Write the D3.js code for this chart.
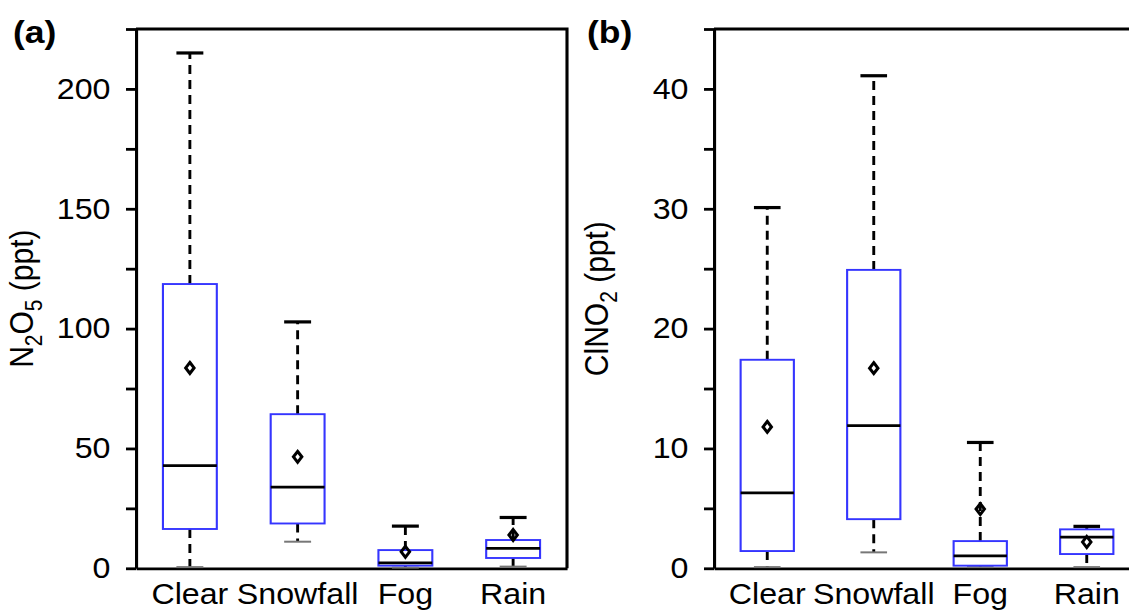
<!DOCTYPE html>
<html>
<head>
<meta charset="utf-8">
<script src="https://cdn.jsdelivr.net/npm/d3@7"></script>
<style>
  body { margin: 0; background: #fff; }
  text { font-family: "Liberation Sans", Arial, sans-serif; fill: #000; }
</style>
</head>
<body>
<svg id="chart" width="1129" height="610"></svg>
<script>
// categories shared by both panels
const categories = ["Clear", "Snowfall", "Fog", "Rain"];

// (a) N2O5, ppt
const n2o5High   = [215, 102.8, 17.6, 21.2];
const n2o5Q3     = [118.6, 64.3, 7.6, 11.8];
const n2o5Median = [42.8, 33.9, 2.3, 8.3];
const n2o5Q1     = [16.4, 18.7, 1.1, 4.3];
const n2o5Low    = [0.5, 11.1, 0.3, 0.7];
const n2o5Mean   = [83.6, 46.5, 6.9, 13.9];

// (b) ClNO2, ppt
const clno2High   = [30.1, 41.1, 10.5, 3.5];
const clno2Q3     = [17.4, 24.9, 2.27, 3.25];
const clno2Median = [6.3, 11.9, 1.03, 2.6];
const clno2Q1     = [1.44, 4.1, 0.22, 1.19];
const clno2Low    = [0.1, 1.33, 0.1, 0.1];
const clno2Mean   = [11.8, 16.7, 4.94, 2.2];

// the source figure is a bit stretched sideways, so draw everything in a squeezed frame
const SX = 1.11;
const plotTop = 29, plotBottom = 568.3;
const blue = "#3535ff";

const svg = d3.select("#chart");
const root = svg.append("g").attr("transform", `scale(${SX},1)`);

const makeRows = (hi, q3, med, q1, lo, mean) =>
  categories.map((c, i) => ({ cat: c, hi: hi[i], q3: q3[i], med: med[i], q1: q1[i], lo: lo[i], mean: mean[i] }));

const drawPanel = ({ left, width, yMax, step, labelStep, rows, tag, tagX, labelX, label }) => {
  const g = root.append("g");
  const x = d3.scaleBand().domain(categories).range([left, left + width]).padding(0);
  const y = d3.scaleLinear().domain([0, yMax]).range([plotBottom, plotTop]);

  const yAxis = g.append("g")
    .attr("transform", `translate(${left},0)`)
    .call(d3.axisLeft(y)
      .tickValues(d3.range(0, yMax + step / 2, step))
      .tickSize(9).tickSizeOuter(0).tickPadding(14)
      .tickFormat(d => (Math.round(d) % labelStep === 0 ? d : "")));
  yAxis.selectAll("line, path").attr("stroke", "#000").attr("stroke-width", 2.8);
  yAxis.selectAll("text").attr("font-size", 29).attr("fill", "#000");

  const xAxis = g.append("g")
    .attr("transform", `translate(0,${plotBottom})`)
    .call(d3.axisBottom(x).tickSize(0).tickSizeOuter(0).tickPadding(15));
  xAxis.selectAll("path").attr("stroke", "#000").attr("stroke-width", 2.8);
  xAxis.selectAll("text").attr("font-size", 29).attr("fill", "#000");

  // top and right frame
  g.append("path")
    .attr("d", `M${left},${y(yMax)}H${left + width}V${plotBottom}`)
    .attr("fill", "none").attr("stroke", "#000").attr("stroke-width", 2.8);

  const bw = x.bandwidth();
  const box = g.selectAll(".box").data(rows).join("g").attr("class", "box");
  const cx = d => x(d.cat) + bw / 2;

  // whiskers
  box.append("line")
    .attr("x1", cx).attr("x2", cx)
    .attr("y1", d => y(d.q3)).attr("y2", d => y(d.hi))
    .attr("stroke", "#000").attr("stroke-width", 2.6).attr("stroke-dasharray", "9,6");
  box.append("line")
    .attr("x1", cx).attr("x2", cx)
    .attr("y1", d => y(d.q1)).attr("y2", d => y(d.lo))
    .attr("stroke", "#000").attr("stroke-width", 2.6).attr("stroke-dasharray", "9,6");
  // caps
  box.append("line")
    .attr("x1", d => cx(d) - bw / 8).attr("x2", d => cx(d) + bw / 8)
    .attr("y1", d => y(d.hi)).attr("y2", d => y(d.hi))
    .attr("stroke", "#000").attr("stroke-width", 3.2);
  box.append("line")
    .attr("x1", d => cx(d) - bw / 8).attr("x2", d => cx(d) + bw / 8)
    .attr("y1", d => y(d.lo)).attr("y2", d => y(d.lo))
    .attr("stroke", "#777").attr("stroke-width", 2);
  // box
  box.append("rect")
    .attr("x", d => cx(d) - bw / 4).attr("width", bw / 2)
    .attr("y", d => y(d.q3)).attr("height", d => y(d.q1) - y(d.q3))
    .attr("fill", "none").attr("stroke", blue).attr("stroke-width", 1.9);
  // median
  box.append("line")
    .attr("x1", d => cx(d) - bw / 4).attr("x2", d => cx(d) + bw / 4)
    .attr("y1", d => y(d.med)).attr("y2", d => y(d.med))
    .attr("stroke", "#000").attr("stroke-width", 2.8);
  // mean
  box.append("path")
    .attr("d", d => `M${cx(d)},${y(d.mean) - 5.5}L${cx(d) + 3.8},${y(d.mean)}L${cx(d)},${y(d.mean) + 5.5}L${cx(d) - 3.8},${y(d.mean)}Z`)
    .attr("fill", "none").attr("stroke", "#000").attr("stroke-width", 2.8);

  // panel tag
  g.append("text").attr("x", tagX).attr("y", 43)
    .attr("font-size", 32).attr("font-weight", "bold").text(tag);

  // y label with subscripts
  const lab = g.append("text")
    .attr("transform", `translate(${labelX},${(plotTop + plotBottom) / 2}) rotate(-90)`)
    .attr("text-anchor", "middle").attr("font-size", 30);
  let shifted = false;
  label.forEach(([t, sub]) => {
    lab.append("tspan").attr("dy", shifted ? -8 : 0).text(t);
    shifted = false;
    if (sub) {
      lab.append("tspan").attr("font-size", 21).attr("dy", 8).text(sub);
      shifted = true;
    }
  });
};

drawPanel({
  left: 136 / SX, width: 431 / SX, yMax: 225, step: 25, labelStep: 50,
  rows: makeRows(n2o5High, n2o5Q3, n2o5Median, n2o5Q1, n2o5Low, n2o5Mean),
  tag: "(a)", tagX: 13 / SX, labelX: 33 / SX,
  label: [["N", "2"], ["O", "5"], [" (ppt)", null]]
});

drawPanel({
  left: 714 / SX, width: 426 / SX, yMax: 45, step: 5, labelStep: 10,
  rows: makeRows(clno2High, clno2Q3, clno2Median, clno2Q1, clno2Low, clno2Mean),
  tag: "(b)", tagX: 587 / SX, labelX: 608 / SX,
  label: [["ClNO", "2"], [" (ppt)", null]]
});
</script>
</body>
</html>
